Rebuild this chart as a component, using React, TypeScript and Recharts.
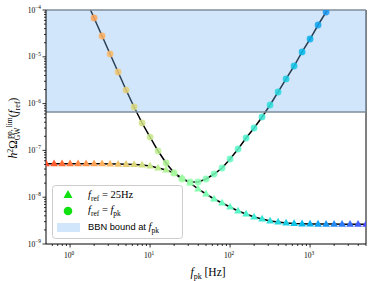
import React from 'react';
import { ComposedChart, Scatter, XAxis, YAxis, ReferenceArea, ReferenceLine } from 'recharts';

// f_ref = 25 Hz (triangles)
const FREQ_TRI = [0.501, 0.631, 0.794, 1.0, 1.259, 1.585, 1.995, 2.512, 3.162, 3.981, 5.012, 6.31, 7.943, 10, 12.59, 15.85, 19.95, 25.12, 31.62, 39.81, 50.12, 63.1, 79.43, 100, 125.9, 158.5, 199.5, 251.2, 316.2, 398.1, 501.2, 631, 794.3, 1000, 1259, 1585, 1995, 2512, 3162, 3981, 5012];
const VAL_TRI = [5.2e-8, 5.2e-8, 5.2e-8, 5.2e-8, 5.2e-8, 5.2e-8, 5.2e-8, 5.2e-8, 5.15e-8, 5.1e-8, 5.05e-8, 5.0e-8, 4.88e-8, 4.65e-8, 4.21e-8, 3.81e-8, 3.29e-8, 2.57e-8, 2.01e-8, 1.5e-8, 1.17e-8, 9.15e-9, 7.52e-9, 6.18e-9, 5.07e-9, 4.38e-9, 3.78e-9, 3.42e-9, 3.1e-9, 2.95e-9, 2.81e-9, 2.74e-9, 2.7e-9, 2.68e-9, 2.67e-9, 2.66e-9, 2.66e-9, 2.65e-9, 2.65e-9, 2.65e-9, 2.65e-9];

// f_ref = f_pk (circles)
const FREQ_CIRC = [1.585, 1.995, 2.512, 3.162, 3.981, 5.012, 6.31, 7.943, 10, 12.59, 15.85, 19.95, 25.12, 31.62, 39.81, 50.12, 63.1, 79.43, 100, 125.9, 158.5, 199.5, 251.2, 316.2, 398.1, 501.2, 631, 794.3, 1000, 1259, 1585, 1995];
const VAL_CIRC = [1.64e-4, 6.75e-5, 2.78e-5, 1.15e-5, 4.73e-6, 1.95e-6, 8.46e-7, 3.85e-7, 1.93e-7, 9.7e-8, 5.38e-8, 3.29e-8, 2.45e-8, 2.11e-8, 2.11e-8, 2.45e-8, 3.13e-8, 4.21e-8, 6.55e-8, 1.07e-7, 1.84e-7, 3.01e-7, 5.18e-7, 9.34e-7, 1.77e-6, 3.36e-6, 6.36e-6, 1.27e-5, 2.4e-5, 4.78e-5, 9.06e-5, 1.72e-4];

const BBN_BOUND = 6.6e-7;
const X_DOMAIN = [0.5, 5000];
const Y_DOMAIN = [1e-9, 1e-4];
const X_MAJOR = [1, 10, 100, 1000];
const X_MINOR = [0.6, 0.7, 0.8, 0.9, 2, 3, 4, 5, 6, 7, 8, 9, 20, 30, 40, 50, 60, 70, 80, 90, 200, 300, 400, 500, 600, 700, 800, 900, 2000, 3000, 4000, 5000];
const Y_MAJOR = [1e-9, 1e-8, 1e-7, 1e-6, 1e-5, 1e-4];
const Y_MANTISSA = [2, 3, 4, 5, 6, 7, 8, 9];
const Y_MINOR = Y_MAJOR.slice(0, 5).flatMap((d) => Y_MANTISSA.map((m) => m * d));

const triData = FREQ_TRI.map((f, i) => ({ f, v: VAL_TRI[i] }));
const circData = FREQ_CIRC.map((f, i) => ({ f, v: VAL_CIRC[i] }));

function cmap(f: number) {
  const t = (Math.log10(f) + 0.3) / 4;
  const x = 0.9 - 0.8 * t;
  const r = Math.min(1, Math.abs(2 * x - 0.5));
  const g = Math.max(0, Math.sin(x * Math.PI));
  const b = Math.max(0, Math.cos((x * Math.PI) / 2));
  return `rgb(${Math.round(r * 255)},${Math.round(g * 255)},${Math.round(b * 255)})`;
}

const SERIF = '"Liberation Serif", "DejaVu Serif", serif';
const SANS = '"Liberation Sans", "DejaVu Sans", sans-serif';

const Tri = (p: any) => {
  const { cx, cy, payload } = p;
  if (cx == null || cy == null) return <g />;
  return <polygon points={`${cx},${cy - 4.2} ${cx - 3.9},${cy + 2.6} ${cx + 3.9},${cy + 2.6}`} fill={cmap(payload.f)} />;
};
const Dot = (p: any) => {
  const { cx, cy, payload } = p;
  if (cx == null || cy == null) return <g />;
  return <circle cx={cx} cy={cy} r={3.4} fill={cmap(payload.f)} fillOpacity={0.85} />;
};
const Empty = () => <g />;

const isMajorX = (v: number) => X_MAJOR.some((m) => Math.abs(m - v) / m < 1e-6);
const isMajorY = (v: number) => Y_MAJOR.some((m) => Math.abs(m - v) / m < 1e-6);

const XTick = (p: any) => {
  const { x, y, payload } = p;
  const major = isMajorX(payload.value);
  const len = major ? 3.5 : 2;
  return (
    <g>
      <line x1={x} y1={y} x2={x} y2={y + len} stroke="#000" strokeWidth={0.8} />
      {major && (
        <text x={x - 1} y={y + 14} textAnchor="middle" fontFamily={SERIF} fontSize={7.5} fill="#000">
          10<tspan dy={-3.5} fontSize={5.3}>{Math.round(Math.log10(payload.value))}</tspan>
        </text>
      )}
    </g>
  );
};

const YTick = (p: any) => {
  const { x, y, payload } = p;
  const major = isMajorY(payload.value);
  const len = major ? 3.5 : 2;
  const e = Math.round(Math.log10(payload.value));
  return (
    <g>
      <line x1={x - len} y1={y} x2={x} y2={y} stroke="#000" strokeWidth={0.8} />
      {major && (
        <text x={x - 5} y={y + 2.5} textAnchor="end" fontFamily={SERIF} fontSize={7.5} fill="#000">
          10<tspan dy={-3.5} fontSize={5.3}>{'\u2212' + Math.abs(e)}</tspan>
        </text>
      )}
    </g>
  );
};

export default function App() {
  return (
    <div style={{ position: 'absolute', left: 0, top: 0, width: 374, height: 281, background: '#fff' }}>
      <ComposedChart width={374} height={281} margin={{ top: 10, right: 8, left: 0, bottom: 7 }}>
        <XAxis
          dataKey="f"
          type="number"
          scale="log"
          domain={X_DOMAIN}
          allowDataOverflow
          ticks={[...X_MAJOR, ...X_MINOR]}
          interval={0}
          tickSize={0}
          tickMargin={0}
          tickLine={false}
          axisLine={{ stroke: '#000', strokeWidth: 1 }}
          height={30}
          tick={<XTick />}
        />
        <YAxis
          dataKey="v"
          type="number"
          scale="log"
          domain={Y_DOMAIN}
          allowDataOverflow
          ticks={[...Y_MAJOR, ...Y_MINOR]}
          interval={0}
          tickSize={0}
          tickMargin={0}
          tickLine={false}
          axisLine={{ stroke: '#000', strokeWidth: 1 }}
          width={46}
          tick={<YTick />}
        />
        <Scatter data={triData} isAnimationActive={false} shape={<Empty />} line={{ stroke: '#000', strokeWidth: 1.5 }} lineType="joint" zIndex={300} />
        <Scatter data={circData} isAnimationActive={false} shape={<Empty />} line={{ stroke: '#000', strokeWidth: 1.5 }} lineType="joint" zIndex={300} />
        <ReferenceLine x={X_DOMAIN[1]} stroke="#000" strokeWidth={1} zIndex={350} />
        <ReferenceArea
          x1={X_DOMAIN[0]}
          x2={X_DOMAIN[1]}
          y1={BBN_BOUND}
          y2={Y_DOMAIN[1]}
          fill="#7ab6f2"
          fillOpacity={0.35}
          stroke="none"
          zIndex={450}
        />
        <ReferenceLine y={BBN_BOUND} stroke="#7f8c99" strokeWidth={1.6} zIndex={460} />
        <ReferenceLine y={Y_DOMAIN[1]} stroke="#7f8c99" strokeWidth={1.6} zIndex={460} />
        <Scatter data={triData} isAnimationActive={false} shape={<Tri />} zIndex={600} />
        <Scatter data={circData} isAnimationActive={false} shape={<Dot />} zIndex={600} />
      </ComposedChart>
      <svg width={374} height={281} style={{ position: 'absolute', left: 0, top: 0, pointerEvents: 'none' }}>
        {/* y label */}
        <text transform="translate(17,128) rotate(-90)" textAnchor="middle" fontFamily={SERIF} fontSize={11.5} fill="#000">
          <tspan fontStyle="italic">h</tspan>
          <tspan dy={-4.5} fontSize={8}>2</tspan>
          <tspan dy={4.5}>Ω</tspan>
          <tspan dy={3} fontSize={7.5}>GW</tspan>
          <tspan dx={-11} dy={-8.5} fontSize={7.5}>pp, lim</tspan>
          <tspan dy={5.5}>(</tspan>
          <tspan fontStyle="italic">f</tspan>
          <tspan dy={3} fontSize={8}>ref</tspan>
          <tspan dy={-3}>)</tspan>
        </text>
        {/* x label */}
        <text x={208} y={276} textAnchor="middle" fontFamily={SERIF} fontSize={11.5} fill="#000">
          <tspan fontStyle="italic">f</tspan>
          <tspan dy={3} fontSize={8}>pk</tspan>
          <tspan dy={-3}> [Hz]</tspan>
        </text>
        {/* legend */}
        <rect x={52.5} y={185.5} width={130} height={53} rx={3} fill="#fff" fillOpacity={0.8} stroke="#cccccc" strokeWidth={1} />
        <polygon points="68,190 63.5,198 72.5,198" fill="#11e011" />
        <circle cx={68} cy={211} r={4.3} fill="#11e011" />
        <rect x={57} y={223} width={23} height={9} fill="#7ab6f2" fillOpacity={0.35} />
        <text x={88} y={198} fontFamily={SERIF} fontSize={10.5} fill="#000">
          <tspan fontStyle="italic">f</tspan>
          <tspan dy={2.5} fontSize={7.5}>ref</tspan>
          <tspan dy={-2.5}> = 25Hz</tspan>
        </text>
        <text x={88} y={213} fontFamily={SERIF} fontSize={10.5} fill="#000">
          <tspan fontStyle="italic">f</tspan>
          <tspan dy={2.5} fontSize={7.5}>ref</tspan>
          <tspan dy={-2.5}> = </tspan>
          <tspan fontStyle="italic">f</tspan>
          <tspan dy={2.5} fontSize={7.5}>pk</tspan>
        </text>
        <text x={88} y={230} fontFamily={SANS} fontSize={9.3} fill="#000">
          BBN bound at <tspan fontFamily={SERIF} fontStyle="italic" fontSize={10.5}>f</tspan>
          <tspan dy={2.5} fontFamily={SERIF} fontSize={7.5}>pk</tspan>
        </text>
      </svg>
    </div>
  );
}
